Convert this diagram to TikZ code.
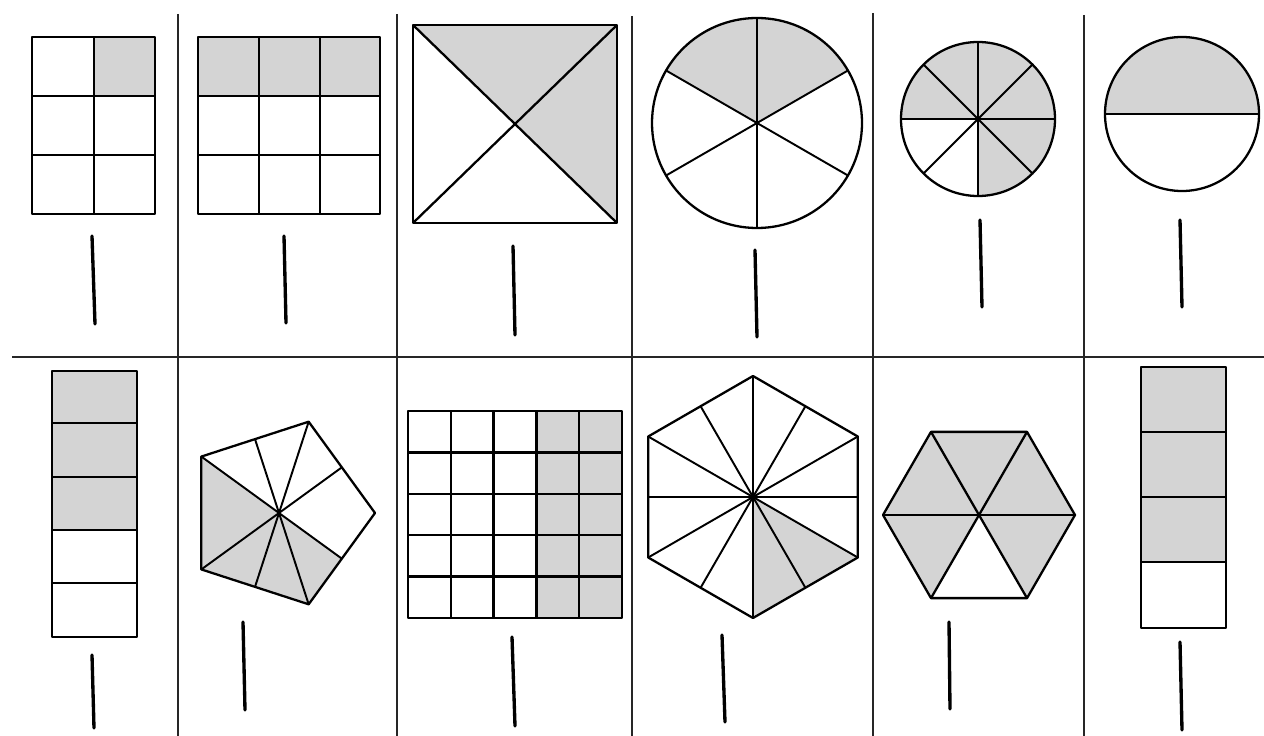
\documentclass[tikz,border=0pt]{standalone}
\usetikzlibrary{calc}
\begin{document}
\begin{tikzpicture}[x=0.02cm,y=-0.02cm,
  frame/.style={line width=0.9pt,draw=black!85},
  piece/.style={draw,line width=1.3pt,line join=round},
  spoke/.style={draw,line width=1.1pt},
  tint/.style={fill=black!17},
  blank/.style={line width=1.9pt,line cap=round}
]
\useasboundingbox (0,0) rectangle (1264,736);
% frame of the sheet
\draw[frame] (12,357) -- (1264,357);
\foreach \x/\t in {178/14,397/14,632/16,873/13,1084/15}
  \draw[frame] (\x,\t) -- (\x,736);

% top row
% 1/6 rectangle
\fill[tint] (94,37) rectangle (155,96);
\draw[piece] (32,37) rectangle (155,214);
\draw[piece] (94,37) -- (94,214) (32,96) -- (155,96) (32,155) -- (155,155);
% 3/9 rectangle
\fill[tint] (198,37) rectangle (380,96);
\draw[piece] (198,37) rectangle (380,214);
\foreach \x in {259,320} \draw[piece] (\x,37) -- (\x,214);
\foreach \y in {96,155} \draw[piece] (198,\y) -- (380,\y);
% square cut by diagonals
\coordinate (sq) at (515,124);
\fill[tint] (413,25) -- (617,25) -- (617,223) -- (sq) -- cycle;
\draw[piece] (413,25) rectangle (617,223);
\draw[piece] (413,25) -- (617,223) (617,25) -- (413,223);
% circle in sixths
\coordinate (sixth) at (757,123);
\fill[tint] (sixth) -- ++(-150:105) arc[start angle=-150,end angle=-30,radius=105] -- cycle;
\draw[piece] (sixth) circle[radius=105];
\foreach \a in {30,90,...,330} \draw[spoke] (sixth) -- ++(\a:105);
% circle in eighths
\coordinate (eighth) at (978,119);
\fill[tint] (eighth) -- ++(180:77) arc[start angle=180,end angle=450,radius=77] -- cycle;
\draw[piece] (eighth) circle[radius=77];
\foreach \a in {0,45,...,315} \draw[spoke] (eighth) -- ++(\a:77);
% circle in halves
\coordinate (half) at (1182,114);
\fill[tint] (half) ++(180:77) arc[start angle=180,end angle=360,radius=77] -- cycle;
\draw[piece] (half) circle[radius=77];
\draw[piece] ($(half)+(-77,0)$) -- ($(half)+(77,0)$);

% bottom row
% 3/5 strip
\fill[tint] (52,371) rectangle (137,530);
\draw[piece] (52,371) rectangle (137,637);
\foreach \y in {423,477,530,583} \draw[piece] (52,\y) -- (137,\y);
% pentagon
\coordinate (pent) at (279,513);
\foreach \k in {0,...,4} \coordinate (pv\k) at ($(pent)+(-72*\k:96)$);
\fill[tint] (pent) -- (pv2) -- (pv3) -- (pv4) -- ($(pv4)!0.5!(pv0)$) -- cycle;
\draw[piece] (pv0) -- (pv1) -- (pv2) -- (pv3) -- (pv4) -- cycle;
\foreach \k in {1,...,4} \draw[spoke] (pent) -- (pv\k);
\foreach \i/\j in {0/1,1/2,3/4,4/0} \draw[spoke] (pent) -- ($(pv\i)!0.5!(pv\j)$);
% 5x5 grid
\fill[tint] (537,411) rectangle (622,618);
\draw[piece] (408,411) rectangle (622,618);
\foreach \i in {1,...,4} {
  \draw[piece] (408+\i*42.8,411) -- (408+\i*42.8,618);
  \draw[piece] (408,411+\i*41.4) -- (622,411+\i*41.4);
}
% hexagon in twelfths
\coordinate (hexa) at (753,497);
\foreach \k in {0,...,5} \coordinate (hv\k) at ($(hexa)+(30+60*\k:121)$);
\fill[tint] (hexa) -- (hv0) -- (hv1) -- cycle;
\draw[piece] (hv0) -- (hv1) -- (hv2) -- (hv3) -- (hv4) -- (hv5) -- cycle;
\foreach \k in {0,...,5} \draw[spoke] (hexa) -- (hv\k);
\foreach \a in {0,60,...,300} \draw[spoke] (hexa) -- ++(\a:104.8);
% hexagon in sixths
\coordinate (hexb) at (979,515);
\fill[tint] (hexb) \foreach \a in {60,0,...,-240} {-- ($(hexb)+(\a:96)$)} -- cycle;
\draw[piece] ($(hexb)+(0:96)$) \foreach \a in {60,120,...,300} {-- ($(hexb)+(\a:96)$)} -- cycle;
\foreach \a in {0,60,120} \draw[piece] ($(hexb)+(\a:96)$) -- ($(hexb)+(\a+180:96)$);
% 3/4 strip
\fill[tint] (1141,367) rectangle (1226,562);
\draw[piece] (1141,367) rectangle (1226,628);
\foreach \y in {432,497,562} \draw[piece] (1141,\y) -- (1226,\y);

% answer blanks
\foreach \xa/\ya/\xb/\yb in {92/236/95/324,284/236/286/323,513/246/515/335,755/250/757/337,
  980/220/982/307,1180/220/1182/307,92/655/94/728,243/622/245/710,512/637/515/726,
  722/635/725/722,949/622/950/709,1180/642/1182/730}
  \draw[blank] (\xa,\ya) -- (\xb,\yb);
\end{tikzpicture}
\end{document}
